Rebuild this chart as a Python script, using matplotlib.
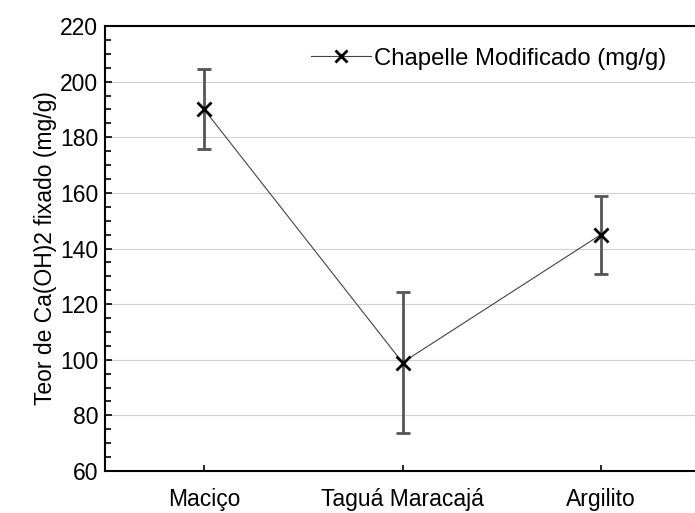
import matplotlib.pyplot as plt
from matplotlib.ticker import MultipleLocator

plt.rcParams["font.family"] = ["Liberation Sans", "DejaVu Sans"]

categories = ["Maciço", "Taguá Maracajá", "Argilito"]
values = [190.0, 99.0, 145.0]
errors = [14.4, 25.5, 14.0]
series_label = "Chapelle Modificado (mg/g)"
y_label = "Teor de Ca(OH)2 fixado (mg/g)"

fs = 16.5

fig = plt.figure(figsize=(6.95, 5.13), dpi=100)
ax = fig.add_axes([105 / 695, 1 - 471 / 513, 595 / 695, 445 / 513])

x = [i + 0.5 for i in range(len(categories))]
ax.errorbar(x, values, yerr=errors, fmt="none", ecolor="#555555",
            elinewidth=2, capsize=5, capthick=2, zorder=2)
ax.plot(x, values, color="#444444", lw=0.8, marker="x", ms=10, mew=2,
        mec="black", label=series_label, zorder=3)

ax.set_xlim(0, 3)
ax.set_ylim(60, 220)
ax.set_xticks(x)
ax.set_xticklabels(categories, fontsize=fs)
ax.yaxis.set_major_locator(MultipleLocator(20))
ax.yaxis.set_minor_locator(MultipleLocator(5))
ax.tick_params(axis="y", which="both", direction="in", labelsize=fs, width=1.2, pad=5)
ax.tick_params(axis="y", which="major", length=5)
ax.tick_params(axis="y", which="minor", length=4)
ax.tick_params(axis="x", direction="in", length=4, width=1.2, pad=12)
ax.grid(axis="y", color="#d0d0d0", lw=0.8)
ax.set_axisbelow(True)
for s in ax.spines.values():
    s.set_linewidth(1.5)
    s.set_color("black")

ax.set_ylabel(y_label, fontsize=fs, labelpad=2)
ax.legend(loc="upper right", bbox_to_anchor=(0.98, 1.0), frameon=False,
          fontsize=17.2, handlelength=2.5, handletextpad=0.15, markerscale=0.8)

fig.savefig("out.png")
